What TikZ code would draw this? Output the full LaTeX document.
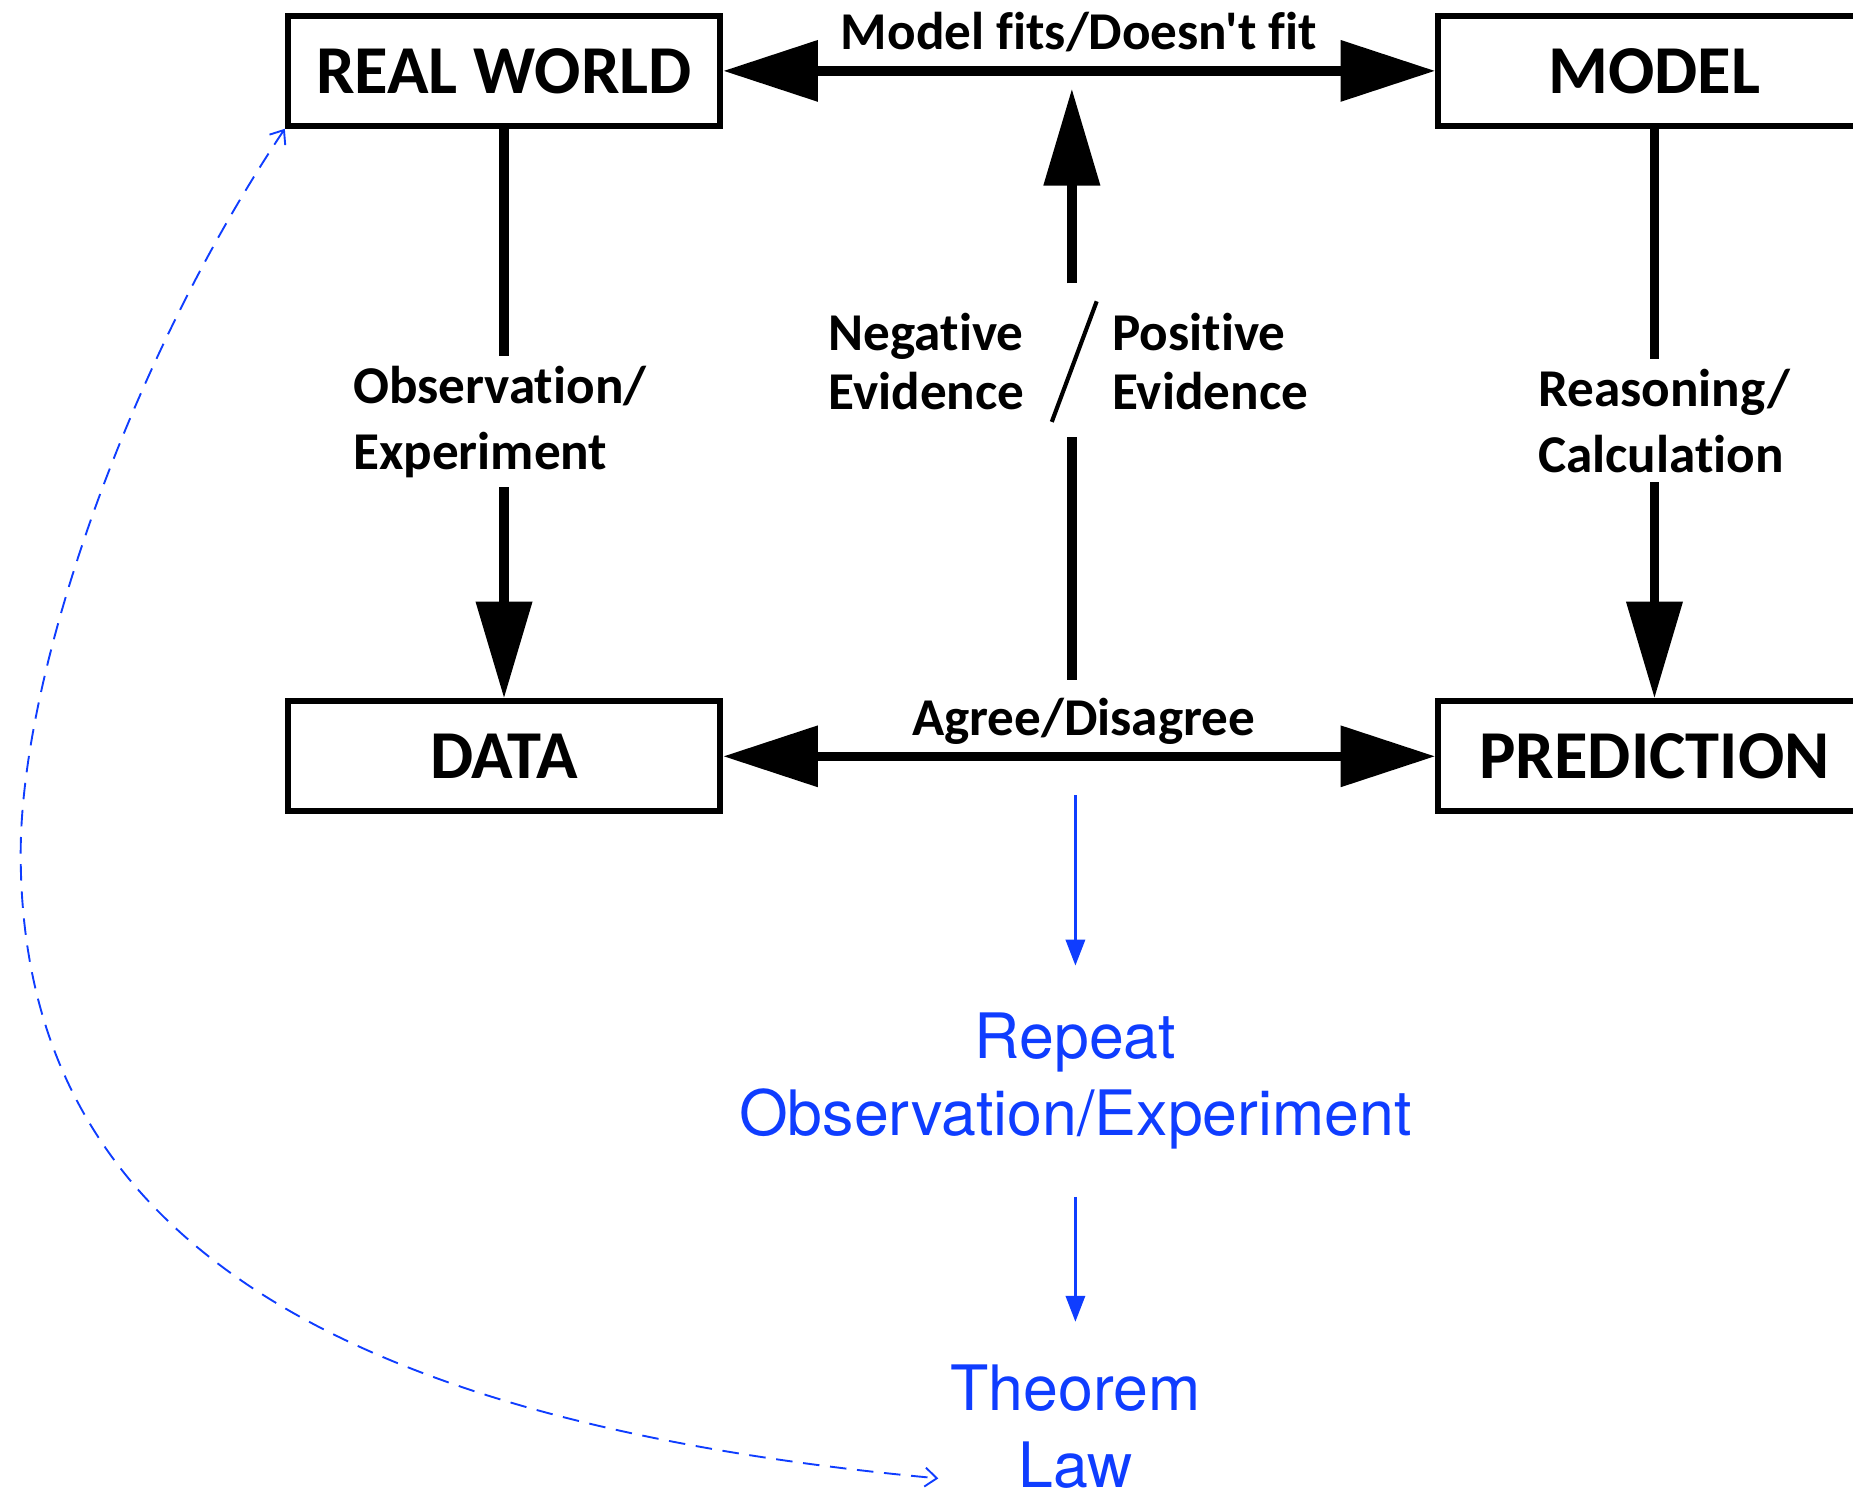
\documentclass[tikz,border=0pt]{standalone}
\usepackage{fontspec}
\setmainfont{Carlito}[Ligatures={TeXOff,CommonOff}]
\newfontfamily\helv{TeX Gyre Heros}
\usetikzlibrary{arrows.meta,positioning}
\definecolor{LoopBlue}{HTML}{0F3DFF}

\begin{document}
\begin{tikzpicture}[x=1pt,y=1pt,>=Triangle]
\tikzset{
  box/.style={draw,line width=5pt,minimum width=366pt,minimum height=93pt,font=\bfseries\fontsize{58}{60}\selectfont},
  lbl/.style={font=\bfseries\fontsize{45}{50}\selectfont,align=left,inner sep=0pt},
  wide/.style={font=\bfseries\fontsize{45}{56}\selectfont,inner ysep=8pt},
  bigarrow/.style={line width=8pt,{Triangle[length=80pt,width=50pt]}-{Triangle[length=80pt,width=50pt]}},
  stem/.style={line width=8pt},
  stemtip/.style={line width=8pt,-{Triangle[length=82pt,width=46pt]}},
  stage/.style={font=\helv\fontsize{53}{65}\selectfont,text=LoopBlue,align=center,inner xsep=10pt,inner ysep=40pt},
  nextarrow/.style={draw=LoopBlue,line width=3pt,-{Triangle[length=22pt,width=16pt]}},
  feedback/.style={draw=LoopBlue,line width=1.6pt,dash pattern=on 14pt off 9pt,{Straight Barb[length=10pt,width=16pt]}-{Straight Barb[length=10pt,width=16pt]}}
}
\useasboundingbox (0,0) rectangle (1568,1270);
\clip (0,0) rectangle (1568,1270);

% the four boxes
\node[box] (world) at (426.5,1210) {REAL WORLD};
\node[box] (model) at (1400,1210) {MODEL};
\node[box] (data) at (426.5,630) {DATA};
\node[box] (pred) at (1400,630) {PREDICTION};

% top and bottom comparisons
\node[lbl] (fits) at (913,1243) {Model fits/Doesn't fit};
\draw[bigarrow] (world) -- (model);
\node[lbl] (agree) at (917,660) {Agree/Disagree};
\draw[bigarrow] (data) -- (pred);

% left and right columns
\node[lbl,wide] (obs) at (423,913) {Observation/\\Experiment};
\draw[stem] (world.south) -- (world.south |- obs.north);
\draw[stemtip] (world.south |- obs.south) -- (data.north);
\node[lbl,wide] (calc) at (1408,914) {Reasoning/\\Calculation};
\draw[stem] (model.south) -- (model.south |- calc.north);
\draw[stemtip] (model.south |- calc.south) -- (pred.north);

% evidence in the middle
\node[minimum height=130pt,inner sep=0pt] (gap) at (907,965) {};
\coordinate (rise) at (907,695);
\coordinate (hit) at (907,1195);
\draw[stem] (rise) -- (gap.south);
\draw[stemtip] (gap.north) -- (hit);
\draw[line width=3.5pt] (928,1015) -- (890,913);
\node[lbl] (neg) at (784,964) {Negative\\Evidence};
\node[lbl] (pos) at (1024,964) {Positive\\Evidence};

% repeat, then law
\coordinate (drop) at (910,597);
\node[stage] (repeat) at (910,355) {Repeat\\Observation/Experiment};
\node[stage,inner ysep=36pt] (law) at (910,63) {Theorem\\Law};
\draw[nextarrow] (drop) -- (repeat.north);
\draw[nextarrow] (repeat.south) -- (law.north);
\coordinate (swing) at (17.5,548);
\draw[feedback] (world.south west) .. controls (106.5,960) and (17.5,698) .. (swing)
  .. controls (17.5,248) and (243,70) .. ([yshift=-44pt]law.west);
\end{tikzpicture}
\end{document}
